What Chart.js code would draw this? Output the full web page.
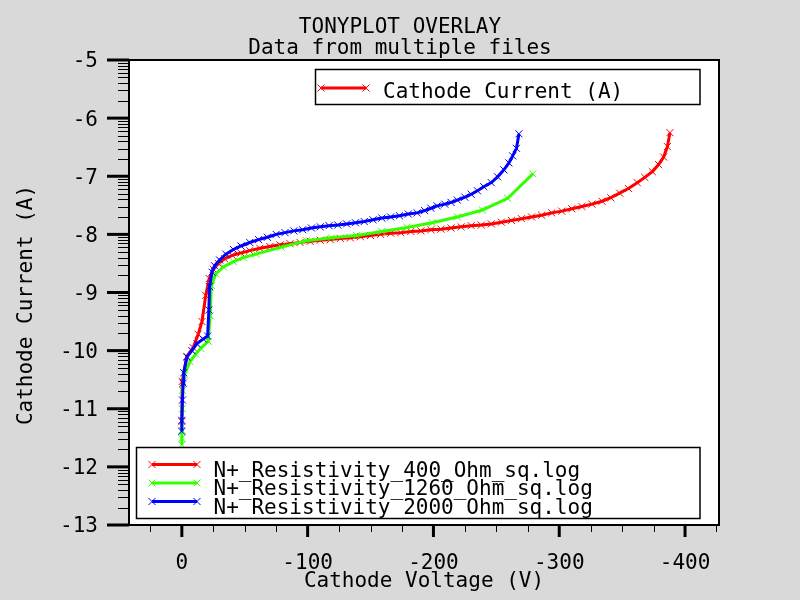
<!DOCTYPE html>
<html><head><meta charset="utf-8">
<script src="https://cdn.jsdelivr.net/npm/chart.js@4"></script>
<style>html,body{margin:0;padding:0;background:#d9d9d9;}canvas{display:block}</style>
</head><body>
<canvas id="c" width="800" height="600"></canvas>
<script>
// ---- data ----
const titleLines = ['TONYPLOT OVERLAY', 'Data from multiple files'];
const xAxisTitle = 'Cathode Voltage (V)';
const yAxisTitle = 'Cathode Current (A)';
const topLegendLabel = 'Cathode Current (A)';
const seriesNames = ['N+_Resistivity_400_Ohm_sq.log', 'N+_Resistivity_1260_Ohm_sq.log', 'N+_Resistivity_2000_Ohm_sq.log'];
const seriesColors = ['#ff0000', '#33ff00', '#0000ff'];
const xTickValues = [0, -100, -200, -300, -400];
const yTickValues = [-5, -6, -7, -8, -9, -10, -11, -12, -13];

// N+ 400 Ohm/sq : cathode voltage (V) and log10 cathode current (A)
const v400 = [0, -0.3, -4, -9, -13, -16, -19, -21.8, -25, -29, -34, -40, -47, -54, -62, -70, -78, -86, -94,
  -102, -110, -118, -126, -134, -142, -150, -158, -166, -174, -182, -190, -198,
  -206, -214, -222, -230, -238, -246, -254, -262, -270, -278, -286, -294, -302, -310, -318, -326, -334,
  -341, -348, -355, -362, -368, -374, -379, -383, -386, -388];
const i400 = [-11.22, -10.53, -10.10, -9.95, -9.72, -9.50, -9.05, -8.76, -8.60, -8.50, -8.42, -8.36, -8.32, -8.28, -8.24, -8.21, -8.18, -8.16, -8.14,
  -8.12, -8.10, -8.09, -8.07, -8.06, -8.04, -8.02, -8.00, -7.98, -7.97, -7.95, -7.94, -7.92,
  -7.91, -7.89, -7.87, -7.85, -7.84, -7.82, -7.79, -7.76, -7.73, -7.70, -7.67, -7.63, -7.60, -7.56, -7.52, -7.48, -7.43,
  -7.37, -7.29, -7.21, -7.11, -7.02, -6.92, -6.80, -6.67, -6.49, -6.25];

// N+ 1260 Ohm/sq
const v1260 = [0, 0, 0, -0.3, -0.5, -2, -6.5, -11, -15, -21, -22.5, -23.5, -27, -33, -41, -49, -59, -79, -99, -119,
  -139, -159, -179, -199, -219, -239, -259, -279];
const i1260 = [-11.62, -11.51, -11.37, -11.00, -10.68, -10.42, -10.19, -10.06, -9.96, -9.84, -9.40, -8.88, -8.68, -8.56, -8.47, -8.40, -8.34, -8.22, -8.11, -8.06,
  -8.02, -7.95, -7.88, -7.80, -7.70, -7.58, -7.38, -6.96];

// N+ 2000 Ohm/sq
const v2000 = [0, 0, -0.5, -1, -1.5, -4, -8, -12, -17, -20.5, -21.5, -22, -24, -26, -30, -35, -41, -47, -54, -61,
  -68, -75, -82, -89, -96, -103, -110, -117, -124, -131, -138, -145, -152, -159, -166, -173, -180, -187, -193, -198,
  -203, -209, -214, -219, -225, -230, -235, -240, -246, -251, -256, -260, -263, -266, -268];
const i2000 = [-11.39, -11.20, -10.85, -10.56, -10.38, -10.11, -10.00, -9.88, -9.80, -9.75, -9.30, -8.90, -8.65, -8.54, -8.44, -8.34, -8.26, -8.20, -8.14, -8.09,
  -8.05, -8.00, -7.97, -7.94, -7.92, -7.89, -7.87, -7.85, -7.84, -7.82, -7.80, -7.78, -7.75, -7.72, -7.70, -7.68, -7.65, -7.63, -7.59, -7.55,
  -7.51, -7.48, -7.45, -7.41, -7.36, -7.31, -7.25, -7.18, -7.11, -7.01, -6.89, -6.77, -6.65, -6.52, -6.27];

// ---- build ----
const FONT = '"DejaVu Sans Mono", "Liberation Mono", monospace';
const pairs = (vs, is) => vs.map((v, k) => ({ x: v, y: is[k] }));
const allSeries = [pairs(v400, i400), pairs(v1260, i1260), pairs(v2000, i2000)];

function xMark(ctx, x, y, r) {
  ctx.beginPath();
  ctx.moveTo(x - r, y - r); ctx.lineTo(x + r, y + r);
  ctx.moveTo(x - r, y + r); ctx.lineTo(x + r, y - r);
  ctx.stroke();
}
function legendSample(ctx, x0, x1, y, color) {
  ctx.strokeStyle = color;
  ctx.lineWidth = 3;
  ctx.beginPath(); ctx.moveTo(x0, y); ctx.lineTo(x1, y); ctx.stroke();
  ctx.lineWidth = 1;
  xMark(ctx, x0, y, 3.5); xMark(ctx, x1, y, 3.5);
}

const framePlugin = {
  id: 'frame',
  beforeDraw(chart) {
    const { ctx, chartArea: a } = chart;
    ctx.save();
    ctx.fillStyle = '#ffffff';
    ctx.fillRect(a.left, a.top, a.right - a.left, a.bottom - a.top);
    ctx.restore();
  },
  afterDraw(chart) {
    const { ctx, chartArea: a } = chart;
    const xs = chart.scales.x, ys = chart.scales.y;
    ctx.save();
    // plot frame
    ctx.strokeStyle = '#000'; ctx.lineWidth = 2;
    ctx.strokeRect(a.left, a.top, a.right - a.left, a.bottom - a.top);

    // y ticks: major + log-decade minors
    yTickValues.forEach(v => {
      const p = ys.getPixelForValue(v);
      ctx.lineWidth = 3;
      ctx.beginPath(); ctx.moveTo(a.left - 22, p); ctx.lineTo(a.left, p); ctx.stroke();
    });
    ctx.lineWidth = 1;
    for (let n = -13; n < -5; n++) {
      for (let k = 2; k <= 9; k++) {
        const p = Math.round(ys.getPixelForValue(n + Math.log10(k))) + 0.5;
        ctx.beginPath(); ctx.moveTo(a.left - 11, p); ctx.lineTo(a.left, p); ctx.stroke();
      }
    }
    // x ticks
    xTickValues.forEach(v => {
      const p = xs.getPixelForValue(v);
      ctx.lineWidth = 3;
      ctx.beginPath(); ctx.moveTo(p, a.bottom); ctx.lineTo(p, a.bottom + 12); ctx.stroke();
    });
    ctx.lineWidth = 1;
    for (let v = 25; v >= -425; v -= 25) {
      if (v % 100 === 0) continue;
      const p = Math.round(xs.getPixelForValue(v)) + 0.5;
      ctx.beginPath(); ctx.moveTo(p, a.bottom); ctx.lineTo(p, a.bottom + 7); ctx.stroke();
    }

    // titles
    ctx.fillStyle = '#000';
    ctx.font = '21px ' + FONT;
    ctx.textAlign = 'center'; ctx.textBaseline = 'alphabetic';
    ctx.fillText(titleLines[0], 400, 33);
    ctx.fillText(titleLines[1], 400, 54);
    ctx.fillText(xAxisTitle, (a.left + a.right) / 2, 587);
    ctx.save();
    ctx.translate(32, 305); ctx.rotate(-Math.PI / 2);
    ctx.fillText(yAxisTitle, 0, 0);
    ctx.restore();

    // top legend
    ctx.fillStyle = '#fff';
    ctx.fillRect(315.5, 69.5, 384.5, 35);
    ctx.strokeStyle = '#000'; ctx.lineWidth = 1.5;
    ctx.strokeRect(315.5, 69.5, 384.5, 35);
    legendSample(ctx, 321, 366, 88, seriesColors[0]);
    ctx.fillStyle = '#000'; ctx.textAlign = 'left';
    ctx.fillText(topLegendLabel, 383, 98);

    // bottom legend
    ctx.fillStyle = '#fff';
    ctx.fillRect(136.5, 447.5, 563.5, 71);
    ctx.strokeStyle = '#000'; ctx.lineWidth = 1.5;
    ctx.strokeRect(136.5, 447.5, 563.5, 71);
    const rowY = [464.5, 483, 501.5];
    seriesNames.forEach((name, k) => {
      legendSample(ctx, 152, 197, rowY[k], seriesColors[k]);
    });
    ctx.fillStyle = '#000';
    seriesNames.forEach((name, k) => {
      ctx.fillText(name, 213.5, rowY[k] + 12);
    });
    ctx.restore();
  }
};

new Chart(document.getElementById('c'), {
  type: 'scatter',
  data: {
    datasets: allSeries.map((d, k) => ({
      label: seriesNames[k],
      data: d,
      showLine: true,
      borderColor: seriesColors[k],
      backgroundColor: seriesColors[k],
      pointBorderColor: seriesColors[k],
      pointStyle: 'crossRot',
      pointRadius: 5,
      pointBorderWidth: 1,
      borderWidth: 3,
      tension: 0,
      order: 2 - k
    }))
  },
  options: {
    responsive: false,
    animation: false,
    devicePixelRatio: 1,
    layout: { padding: { left: 0, top: 60, right: 81, bottom: 0 } },
    plugins: { legend: { display: false }, tooltip: { enabled: false }, title: { display: false } },
    scales: {
      x: {
        type: 'linear', min: -427, max: 42, reverse: true,
        grid: { display: false, drawTicks: false }, border: { display: false },
        afterBuildTicks: s => { s.ticks = xTickValues.map(v => ({ value: v })); },
        afterFit: s => { s.height = 75; },
        ticks: { padding: 26, color: '#000', font: { family: FONT, size: 21 }, maxRotation: 0, autoSkip: false, callback: v => String(v) }
      },
      y: {
        type: 'linear', min: -13, max: -5,
        grid: { display: false, drawTicks: false }, border: { display: false },
        afterBuildTicks: s => { s.ticks = yTickValues.map(v => ({ value: v })); },
        afterFit: s => { s.width = 129; },
        ticks: { padding: 31, labelOffset: 2, color: '#000', font: { family: FONT, size: 21 }, autoSkip: false, callback: v => String(v) }
      }
    }
  },
  plugins: [framePlugin]
});
</script>
</body></html>
